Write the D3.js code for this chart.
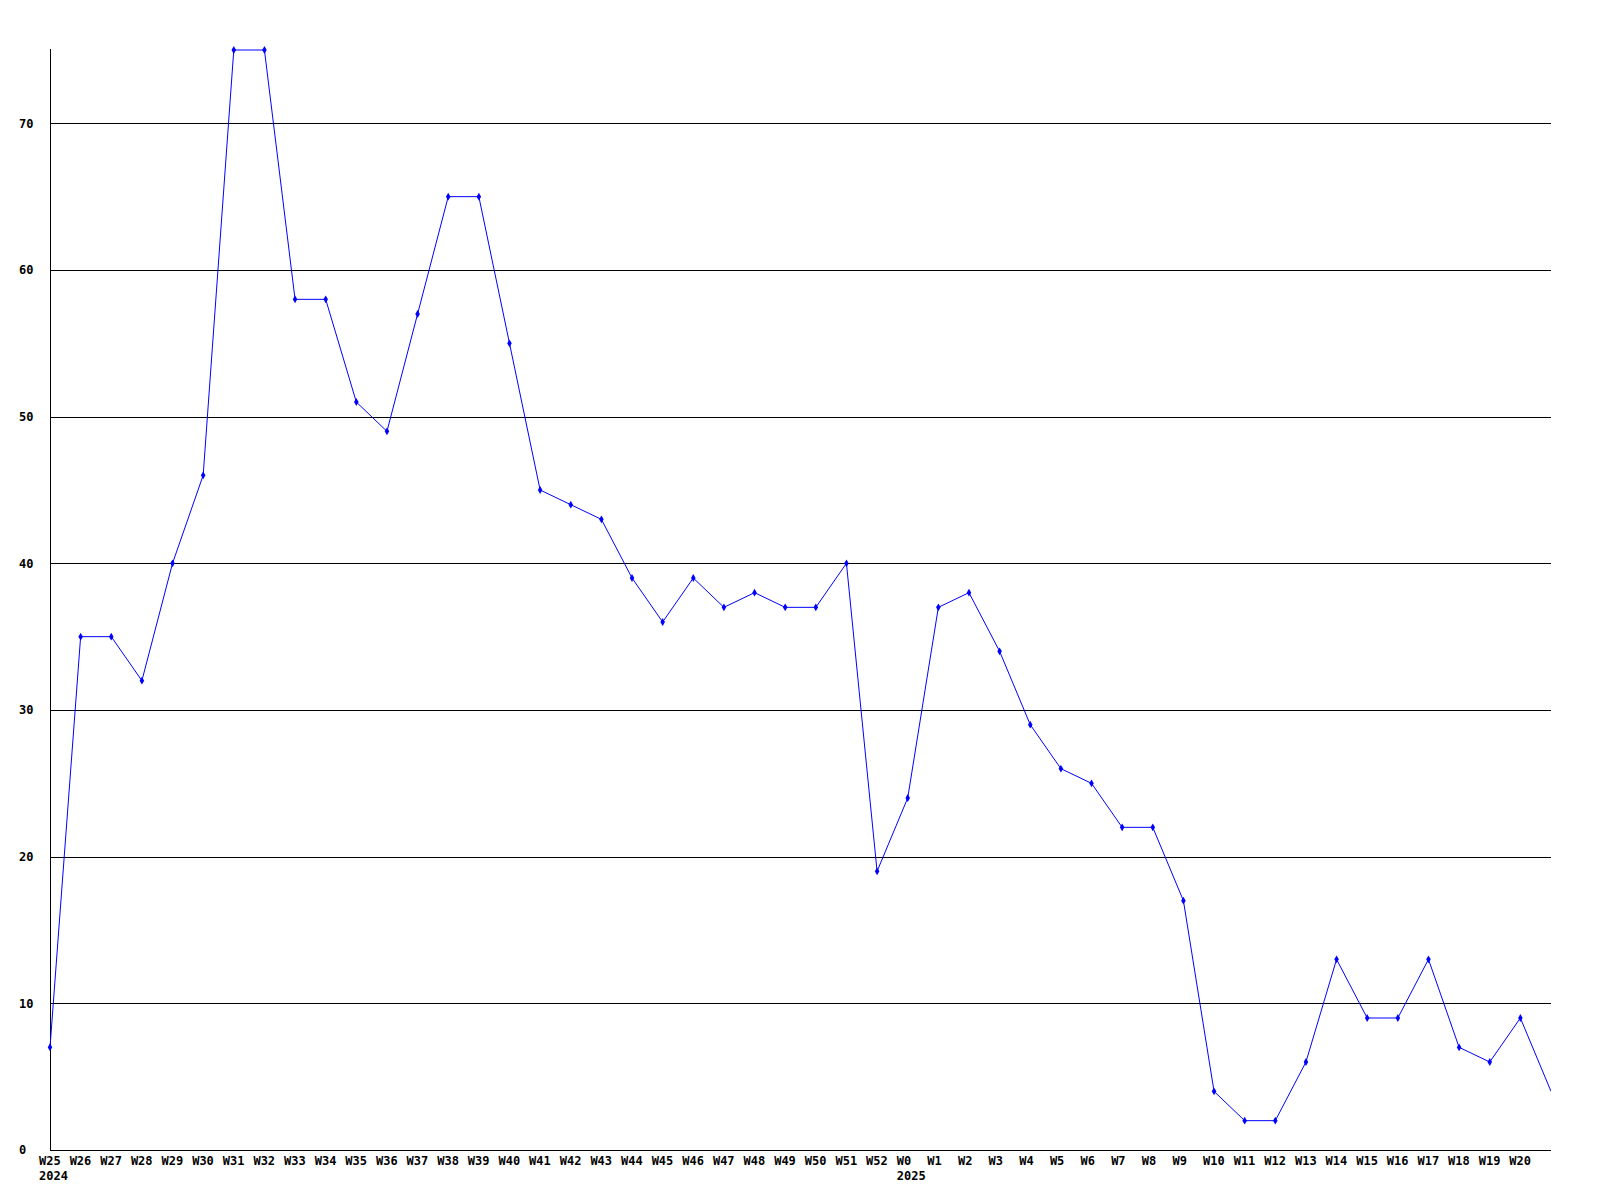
<!DOCTYPE html>
<html>
<head>
<meta charset="utf-8">
<script src="https://cdn.jsdelivr.net/npm/d3@7"></script>
<style>
  html, body { margin: 0; padding: 0; background: #fff; }
  svg { display: block; }
  text { font-family: "DejaVu Sans Mono", "Liberation Mono", monospace; font-weight: bold; font-size: 12px; fill: #000; }
</style>
</head>
<body>
<svg id="chart" width="1600" height="1200"></svg>
<script>
const weeks = ["W25","W26","W27","W28","W29","W30","W31","W32","W33","W34","W35","W36","W37","W38","W39","W40","W41","W42","W43","W44","W45","W46","W47","W48","W49","W50","W51","W52","W0","W1","W2","W3","W4","W5","W6","W7","W8","W9","W10","W11","W12","W13","W14","W15","W16","W17","W18","W19","W20","W21"];
const values = [7,35,35,32,40,46,75,75,58,58,51,49,57,65,65,55,45,44,43,39,36,39,37,38,37,37,40,19,24,37,38,34,29,26,25,22,22,17,4,2,2,6,13,9,9,13,7,6,9,4];
const xTickLabels = weeks.slice(0, 49);
const yearLabels = [{week: "W25", year: "2024"}, {week: "W0", year: "2025"}];
const yTicks = [0,10,20,30,40,50,60,70];
const yMax = 75;

const svg = d3.select("#chart");
const mLeft = 50, mRight = 1551, mTop = 50, mBottom = 1150;

const x = d3.scalePoint().domain(weeks).range([mLeft, mRight]);
const y = d3.scaleLinear().domain([0, yMax]).range([mBottom, mTop]);

svg.append("defs").append("clipPath").attr("id", "plotclip")
  .append("rect").attr("x", mLeft - 4).attr("y", 0).attr("width", mRight - mLeft + 4).attr("height", 1200);

// gridlines
svg.append("g").selectAll("line").data(yTicks.filter(d => d > 0)).join("line")
  .attr("x1", mLeft).attr("x2", mRight)
  .attr("y1", d => Math.round(y(d)) + 0.5).attr("y2", d => Math.round(y(d)) + 0.5)
  .attr("stroke", "#000").attr("stroke-width", 1);

// axes lines
svg.append("line").attr("x1", mLeft).attr("x2", mRight)
  .attr("y1", mBottom + 0.5).attr("y2", mBottom + 0.5).attr("stroke", "#000");
svg.append("line").attr("x1", mLeft + 0.5).attr("x2", mLeft + 0.5)
  .attr("y1", mTop - 1).attr("y2", mBottom).attr("stroke", "#000");

// y labels
svg.append("g").selectAll("text").data(yTicks).join("text")
  .attr("x", 19).attr("y", d => y(d)).attr("dy", "0.35em")
  .text(d => d);

// x labels
svg.append("g").selectAll("text").data(xTickLabels).join("text")
  .attr("x", d => x(d) - 11).attr("y", mBottom + 11).attr("dy", "0.35em")
  .text(d => d);

svg.append("g").selectAll("text").data(yearLabels).join("text")
  .attr("x", d => x(d.week) - 11).attr("y", mBottom + 26).attr("dy", "0.35em")
  .text(d => d.year);

// line
const pts = weeks.map((w, i) => ({w, v: values[i]}));
const g = svg.append("g").attr("clip-path", "url(#plotclip)");
g.append("path").datum(pts)
  .attr("fill", "none").attr("stroke", "#0000ff").attr("stroke-width", 1)
  .attr("d", d3.line().x(d => x(d.w)).y(d => y(d.v)));

g.selectAll("path.m").data(pts.slice(0, -1)).join("path").attr("class", "m")
  .attr("transform", d => `translate(${x(d.w)},${y(d.v)})`)
  .attr("d", d3.symbol().type(d3.symbolDiamond).size(18))
  .attr("fill", "#0000ff");
</script>
</body>
</html>
